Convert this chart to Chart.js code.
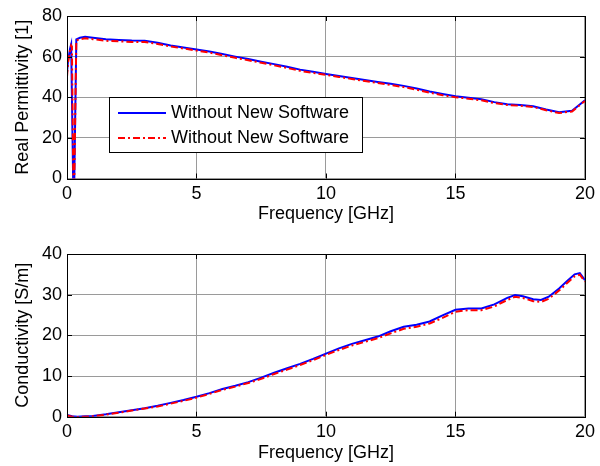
<!DOCTYPE html>
<html><head><meta charset="utf-8">
<script src="https://cdn.jsdelivr.net/npm/chart.js@4/dist/chart.umd.min.js"></script>
<style>html,body{margin:0;padding:0;background:#fff;width:600px;height:466px;overflow:hidden}
canvas{position:absolute;left:0}</style></head>
<body>
<canvas id="c1" width="600" height="236" style="top:0"></canvas>
<canvas id="c2" width="600" height="230" style="top:236px"></canvas>
<script>
// ---- data ----
const freqTop = [0, 0.04, 0.08, 0.12, 0.16, 0.19, 0.26, 0.36, 0.5, 0.7, 1, 1.5, 2, 2.5, 3, 3.5, 4, 4.5, 5, 5.5, 6, 6.5, 7, 7.5, 8, 8.5, 9, 9.5, 10, 10.5, 11, 11.5, 12, 12.5, 13, 13.5, 14, 14.5, 15, 15.5, 16, 16.5, 17, 17.5, 18, 18.5, 19, 19.5, 20];
const permBlue = [52, 58, 61, 64, 66, 66, -20, 68.5, 69.3, 69.8, 69.3, 68.5, 68.2, 67.9, 67.8, 66.8, 65.5, 64.5, 63.5, 62.5, 61.3, 60.0, 58.8, 57.5, 56.3, 55.0, 53.6, 52.5, 51.5, 50.5, 49.5, 48.5, 47.5, 46.6, 45.6, 44.3, 42.8, 41.6, 40.5, 39.8, 39.0, 37.6, 36.6, 36.2, 35.6, 34.0, 32.6, 33.3, 38.5];
const permRed = [50, 57, 60, 63, 65.5, 65, -20, 68, 68.6, 69, 68.6, 67.8, 67.5, 67.2, 67.2, 66.2, 65, 64, 63, 62, 60.7, 59.4, 58.2, 57, 55.7, 54.4, 53, 52, 51, 50, 49, 48, 47, 46, 45, 43.7, 42.3, 41, 40, 39.3, 38.5, 37.1, 36.2, 35.8, 35.2, 33.6, 32.2, 33, 38.2];
const freqBottom = [0, 0.2, 0.4, 0.7, 1, 1.5, 2, 2.5, 3, 3.5, 4, 4.5, 5, 5.5, 6, 6.5, 7, 7.5, 8, 8.5, 9, 9.5, 10, 10.5, 11, 11.5, 12, 12.5, 13, 13.5, 14, 14.5, 15, 15.5, 16, 16.5, 17, 17.3, 17.6, 18, 18.3, 18.6, 19, 19.3, 19.6, 19.8, 20];
const condBlue = [0.4, 0.1, 0.0, 0.1, 0.2, 0.6, 1.1, 1.6, 2.1, 2.7, 3.4, 4.1, 4.9, 5.8, 6.8, 7.6, 8.5, 9.6, 10.8, 11.9, 13.0, 14.2, 15.5, 16.8, 17.9, 18.8, 19.7, 21.0, 22.1, 22.6, 23.4, 24.9, 26.3, 26.6, 26.6, 27.6, 29.2, 29.9, 29.6, 28.9, 28.7, 29.5, 31.5, 33.3, 35.0, 35.3, 33.6];
const condRed = [0.3, 0.0, -0.1, 0.0, 0.1, 0.5, 1.0, 1.5, 2.0, 2.5, 3.2, 3.9, 4.7, 5.6, 6.6, 7.4, 8.3, 9.3, 10.5, 11.6, 12.7, 13.9, 15.2, 16.4, 17.5, 18.4, 19.3, 20.5, 21.6, 22.1, 22.9, 24.3, 25.8, 26.2, 26.2, 27.1, 28.7, 29.5, 29.2, 28.4, 28.2, 29.0, 31.0, 32.8, 34.5, 34.9, 33.2];
const seriesNames = ['Without New Software', 'Without New Software'];
const xTitle = 'Frequency [GHz]';
const yTitleTop = 'Real Permittivity [1]';
const yTitleBottom = 'Conductivity [S/m]';

// ---- styling ----
const FONT = "'Liberation Sans', Arial, sans-serif";
Chart.defaults.font.family = FONT;
Chart.defaults.font.size = 18;
Chart.defaults.color = '#000';
const BLUE = '#0000ff', RED = '#ff0000';
const DASH = [7, 3, 2, 3];

function pts(xs, ys){ return xs.map((x,i)=>({x:x, y:ys[i]})); }

const boxPlugin = {
  id: 'boxTicks',
  afterDatasetsDraw(chart){
    const {ctx, chartArea:a, scales:{x, y}} = chart;
    ctx.save();
    ctx.strokeStyle = '#000'; ctx.lineWidth = 1;
    const L = 5;
    const seg = (x1,y1,x2,y2)=>{ctx.beginPath();ctx.moveTo(x1,y1);ctx.lineTo(x2,y2);ctx.stroke();};
    x.ticks.forEach(t=>{
      const px = Math.round(x.getPixelForValue(t.value)) + 0.5;
      seg(px, a.top, px, a.top + L); seg(px, a.bottom, px, a.bottom - L);
    });
    y.ticks.forEach(t=>{
      const py = Math.round(y.getPixelForValue(t.value)) + 0.5;
      seg(a.left, py, a.left + L, py); seg(a.right, py, a.right - L, py);
    });
    ctx.strokeRect(Math.round(a.left) + 0.5, Math.round(a.top) + 0.5, Math.round(a.right - a.left), Math.round(a.bottom - a.top));
    ctx.restore();
  }
};

const legendPlugin = {
  id: 'innerLegend',
  afterDraw(chart){
    const ctx = chart.ctx;
    const bx = 109.5, by = 97.5, bw = 253, bh = 55;
    ctx.save();
    ctx.fillStyle = '#fff';
    ctx.fillRect(bx, by, bw, bh);
    ctx.strokeStyle = '#000'; ctx.lineWidth = 1;
    ctx.strokeRect(bx, by, bw, bh);
    const ds = chart.data.datasets;
    const rows = [{d: ds[1], y: 113}, {d: ds[0], y: 138}];
    rows.forEach(r=>{
      ctx.strokeStyle = r.d.borderColor; ctx.lineWidth = 2;
      ctx.setLineDash(r.d.borderDash || []);
      ctx.beginPath(); ctx.moveTo(118, r.y); ctx.lineTo(166, r.y); ctx.stroke();
      ctx.setLineDash([]);
      ctx.fillStyle = '#000'; ctx.font = '18px ' + FONT;
      ctx.textBaseline = 'middle'; ctx.textAlign = 'left';
      ctx.fillText(r.d.label, 171, r.y + 0.5);
    });
    ctx.restore();
  }
};

function makeChart(id, xs, yb, yr, ymax, ystep, ytitle, canvasH, areaBottom, titlePadBottom, withLegend){
  return new Chart(document.getElementById(id), {
    type: 'line',
    data: { datasets: [
      { label: seriesNames[1], data: pts(xs, yr), borderColor: RED, borderWidth: 2, borderDash: DASH, pointRadius: 0, fill: false, tension: 0, order: 0 },
      { label: seriesNames[0], data: pts(xs, yb), borderColor: BLUE, borderWidth: 2, pointRadius: 0, fill: false, tension: 0, order: 1 }
    ]},
    options: {
      responsive: false, animation: false, devicePixelRatio: 1,
      layout: { padding: { top: id === 'c1' ? 16 : 18, right: 12, left: 0, bottom: 0 } },
      plugins: { legend: { display: false }, tooltip: { enabled: false } },
      scales: {
        x: { type: 'linear', min: 0, max: 20,
             ticks: { stepSize: 5, padding: 5, maxRotation: 0, font: { size: 18 } },
             grid: { color: '#9a9a9a', drawTicks: false },
             border: { display: false },
             title: { display: true, text: xTitle, font: { size: 18 }, padding: { top: 0, bottom: titlePadBottom } },
             afterFit: s => { s.height = canvasH - areaBottom; } },
        y: { min: 0, max: ymax,
             ticks: { stepSize: ystep, padding: 5, font: { size: 18 } },
             grid: { color: '#9a9a9a', drawTicks: false },
             border: { display: false },
             title: { display: true, text: ytitle, font: { size: 18 }, padding: { top: 12.7, bottom: 0 } },
             afterFit: s => { s.width = 67; } }
      }
    },
    plugins: withLegend ? [boxPlugin, legendPlugin] : [boxPlugin]
  });
}

makeChart('c1', freqTop, permBlue, permRed, 80, 20, yTitleTop, 236, 178.5, 11.2, true);
makeChart('c2', freqBottom, condBlue, condRed, 40, 10, yTitleBottom, 230, 180.7, 2.2, false);
</script>
</body></html>
